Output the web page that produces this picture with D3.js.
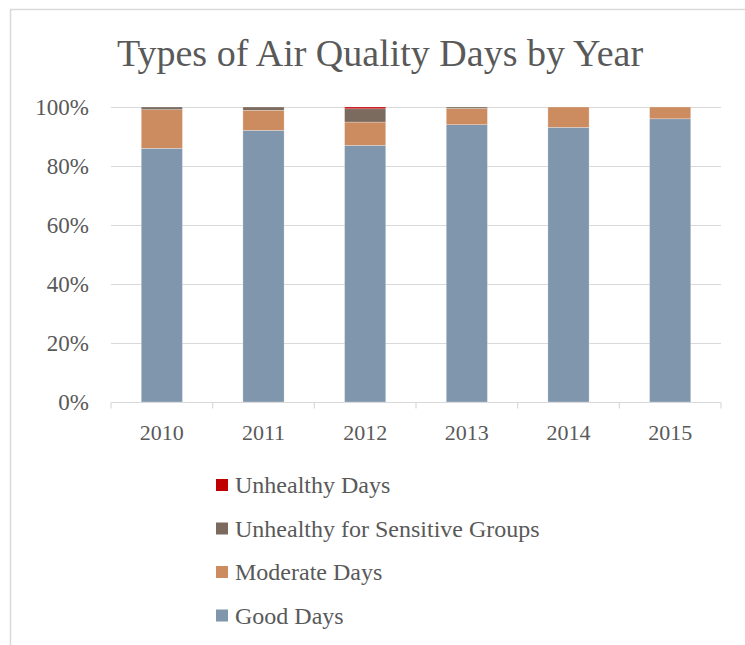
<!DOCTYPE html>
<html>
<head>
<meta charset="utf-8">
<script src="https://cdn.jsdelivr.net/npm/d3@7/dist/d3.min.js"></script>
<style>
  html, body { margin: 0; padding: 0; background: #fff; }
  svg { display: block; }
  text { font-family: "Liberation Serif", "DejaVu Serif", serif; fill: #595959; }
</style>
</head>
<body>
<svg id="chart" width="745" height="645"></svg>
<script>
// Share of days per air-quality category, percent of the year
const years = ["2010", "2011", "2012", "2013", "2014", "2015"];
const goodDays = [86.0, 92.1, 87.0, 94.0, 93.1, 96.0];
const moderateDays = [13.1, 6.8, 7.9, 5.5, 6.9, 4.0];
const sensitiveDays = [0.9, 1.1, 4.5, 0.5, 0.0, 0.0];
const unhealthyDays = [0.0, 0.0, 0.6, 0.0, 0.0, 0.0];
const seriesNames = ["Good Days", "Moderate Days", "Unhealthy for Sensitive Groups", "Unhealthy Days"];
const seriesColors = ["#7f96ac", "#cd8c60", "#7b6a5e", "#c00000"];
const yTicks = [0, 0.2, 0.4, 0.6, 0.8, 1.0];

const svg = d3.select("#chart");

// Chart area frame
svg.append("path")
  .attr("d", "M10.5,660 V9.5 H760")
  .attr("fill", "none")
  .attr("stroke", "#d9d9d9")
  .attr("stroke-width", 1.5);

// Title
svg.append("text")
  .attr("x", 380)
  .attr("y", 66)
  .attr("text-anchor", "middle")
  .attr("font-size", 38)
  .text("Types of Air Quality Days by Year");

const rows = years.map((y, i) => ({
  year: y,
  "Good Days": goodDays[i],
  "Moderate Days": moderateDays[i],
  "Unhealthy for Sensitive Groups": sensitiveDays[i],
  "Unhealthy Days": unhealthyDays[i]
}));

const stacked = d3.stack().keys(seriesNames).offset(d3.stackOffsetExpand)(rows);

const x = d3.scaleBand().domain(years).range([111, 721]).padding(0);
const y = d3.scaleLinear().domain([0, 1]).range([402, 107]);
const barW = x.bandwidth() * 0.405;

// Gridlines
svg.append("g")
  .selectAll("line")
  .data(yTicks.filter(t => t > 0))
  .join("line")
  .attr("x1", 111).attr("x2", 721)
  .attr("y1", d => Math.round(y(d)) + 0.5)
  .attr("y2", d => Math.round(y(d)) + 0.5)
  .attr("stroke", "#d9d9d9")
  .attr("stroke-width", 1.2);

// Bars
svg.append("g")
  .selectAll("g")
  .data(stacked)
  .join("g")
  .attr("fill", (d, i) => seriesColors[i])
  .selectAll("rect")
  .data(d => d)
  .join("rect")
  .attr("x", d => x(d.data.year) + (x.bandwidth() - barW) / 2)
  .attr("width", barW)
  .attr("y", d => y(d[1]))
  .attr("height", d => Math.max(0, y(d[0]) - y(d[1])))
  .attr("stroke", "#ffffff")
  .attr("stroke-opacity", 0.45)
  .attr("stroke-width", d => (y(d[0]) - y(d[1])) > 0 ? 0.6 : 0);

// X axis with category tick marks
const xAxis = svg.append("g").attr("transform", "translate(0,402.5)");
xAxis.append("line")
  .attr("x1", 111).attr("x2", 721)
  .attr("stroke", "#d9d9d9").attr("stroke-width", 1.2);
xAxis.selectAll("line.tick")
  .data(years.concat(["end"]))
  .join("line")
  .attr("class", "tick")
  .attr("x1", (d, i) => i < years.length ? x(d) : x.range()[1])
  .attr("x2", (d, i) => i < years.length ? x(d) : x.range()[1])
  .attr("y1", 0).attr("y2", 6)
  .attr("stroke", "#d9d9d9").attr("stroke-width", 1.2);
xAxis.selectAll("text")
  .data(years)
  .join("text")
  .attr("x", d => x(d) + x.bandwidth() / 2)
  .attr("y", 37)
  .attr("text-anchor", "middle")
  .attr("font-size", 22)
  .text(d => d);

// Y axis labels
const pct = d3.format(".0%");
svg.append("g")
  .selectAll("text")
  .data(yTicks)
  .join("text")
  .attr("x", 89)
  .attr("y", d => y(d) + 7.5)
  .attr("text-anchor", "end")
  .attr("font-size", 23)
  .text(d => pct(d));

// Legend, listed top-down from the topmost stack layer
const legendOrder = seriesNames.slice().reverse();
const legend = svg.append("g")
  .selectAll("g")
  .data(legendOrder)
  .join("g")
  .attr("transform", (d, i) => `translate(216,${485 + i * 43.5})`);
legend.append("rect")
  .attr("x", 0).attr("y", -6)
  .attr("width", 12).attr("height", 12)
  .attr("fill", d => seriesColors[seriesNames.indexOf(d)]);
legend.append("text")
  .attr("x", 19)
  .attr("y", 8)
  .attr("font-size", 24)
  .text(d => d);
</script>
</body>
</html>
